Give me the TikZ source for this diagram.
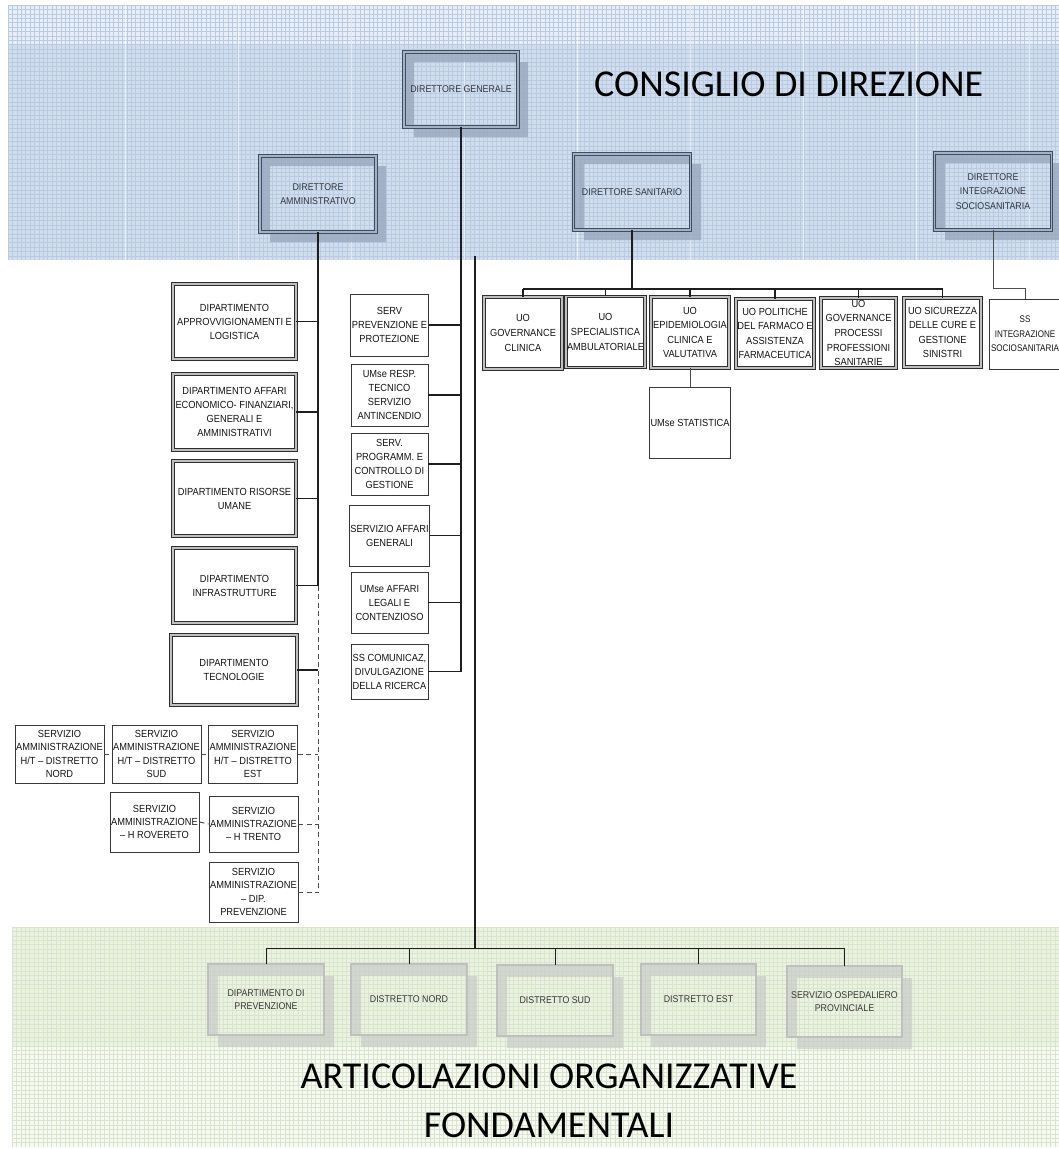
\documentclass[tikz,border=0pt]{standalone}
\usepackage{fontspec}
\setmainfont{Liberation Sans}
\newfontfamily\boxfont[FakeStretch=0.9]{Liberation Sans}
\newfontfamily\narrowfont[FakeStretch=0.84]{Liberation Sans}
\newfontfamily\titlefont{Carlito}
\usetikzlibrary{calc}
\definecolor{toplight}{RGB}{232,238,247}
\definecolor{bandblue}{RGB}{208,221,238}
\definecolor{gridblue}{RGB}{186,202,225}
\definecolor{shblue}{RGB}{150,164,188}
\definecolor{topedge}{RGB}{65,78,98}
\definecolor{topgap}{RGB}{165,178,198}
\definecolor{toptext}{RGB}{50,55,65}
\definecolor{greenband}{RGB}{236,242,225}
\definecolor{greenlight}{RGB}{247,250,242}
\definecolor{gridgreen}{RGB}{218,228,205}
\definecolor{shgray}{RGB}{196,198,196}
\definecolor{lineblk}{RGB}{30,30,30}
\begin{document}
\begin{tikzpicture}[x=1pt,y=-1pt,
  sz/.style 2 args={minimum width=#1, minimum height=#2},
  basebox/.style={align=center, inner sep=1pt, font=\boxfont\fontsize{10.3}{14}\selectfont, text=black!92},
  topbox/.style={basebox, draw=topedge, line width=0.9pt, double=topgap, double distance=1.4pt, text=toptext, font=\boxfont\fontsize{9.8}{14.5}\selectfont},
  dblbox/.style={basebox, draw=black!82, line width=0.9pt, double=black!25, double distance=1.3pt},
  uobox/.style={dblbox, font=\boxfont\fontsize{10.3}{14.6}\selectfont},
  sglbox/.style={basebox, draw=black!78, line width=0.85pt},
  smbox/.style={sglbox, font=\boxfont\fontsize{10.3}{13.2}\selectfont},
  botbox/.style={basebox, draw=black!68, line width=0.75pt, double=black!25, double distance=1.3pt, text=black!78, font=\boxfont\fontsize{9.8}{12.5}\selectfont},
  conn/.style={draw=lineblk, line width=1.1pt},
  thickconn/.style={draw=lineblk, line width=1.8pt},
  dconn/.style={draw=black!70, line width=1pt, dash pattern=on 5pt off 3.5pt},
  title/.style={font=\titlefont\fontsize{38}{40}\selectfont, text=black, inner sep=0pt}
]
\useasboundingbox (0,0) rectangle (1059,1149);
\fill[white] (0,0) rectangle (1059,1149);
% ---------- bands ----------
\fill[toplight] (8,5) rectangle (1059,44);
\fill[bandblue] (8,44) rectangle (1059,260);
\fill[greenband] (12,927) rectangle (1059,1047);
\fill[greenlight] (12,1047) rectangle (1059,1147);
% ---------- grids ----------
\draw[gridblue, line width=0.3pt] \foreach \i in {0,...,239} {({8+4.4*\i},5) -- ({8+4.4*\i},260)};
\draw[gridblue, line width=0.3pt] \foreach \j in {0,...,57} {(8,{5+4.4*\j}) -- (1059,{5+4.4*\j})};
\draw[white, line width=1pt, opacity=0.55] \foreach \x in {125,238,351,464,577,690,803,916,1029} {(\x,5) -- (\x,260)};
\draw[gridgreen, line width=0.3pt] \foreach \i in {0,...,238} {({12+4.4*\i},927) -- ({12+4.4*\i},1147)};
\draw[gridgreen, line width=0.3pt] \foreach \j in {0,...,49} {(12,{927+4.4*\j}) -- (1059,{927+4.4*\j})};
% ---------- shadows ----------
\begin{scope}[fill opacity=0.75]
\fill[shblue, even odd rule] (414,62) rectangle (528,137) (404,52) rectangle (518,127);
\fill[shblue, even odd rule] (270,166) rectangle (386,242) (260,156) rectangle (376,232);
\fill[shblue, even odd rule] (584,164) rectangle (701,240) (574,154) rectangle (691,230);
\fill[shblue, even odd rule] (945,163) rectangle (1062,240) (935,153) rectangle (1052,230);
\end{scope}
\begin{scope}[fill opacity=0.6]
\fill[shgray, even odd rule] (218,976) rectangle (334,1047) (208,964) rectangle (324,1035);
\fill[shgray, even odd rule] (361,976) rectangle (477,1047) (351,964) rectangle (467,1035);
\fill[shgray, even odd rule] (507,977) rectangle (623,1048) (497,965) rectangle (613,1036);
\fill[shgray, even odd rule] (651,976) rectangle (766,1047) (641,964) rectangle (756,1035);
\fill[shgray, even odd rule] (797,978) rectangle (912,1049) (787,966) rectangle (902,1037);
\end{scope}
% ---------- titles ----------
\node[title, anchor=base west] (t1) at (594,96) {CONSIGLIO DI DIREZIONE};
\node[title, anchor=base] (t2) at (549,1088) {ARTICOLAZIONI ORGANIZZATIVE};
\node[title, anchor=base] (t3) at (549,1137) {FONDAMENTALI};
% ---------- top directors ----------
\node[topbox, sz={114}{75}] (dg) at (461,89.5) {DIRETTORE GENERALE};
\node[topbox, sz={116}{76}] (da) at (318,194) {DIRETTORE\\AMMINISTRATIVO};
\node[topbox, sz={117}{76}] (ds) at (632,192) {DIRETTORE SANITARIO};
\node[topbox, sz={117}{77}] (dis) at (993,191.5) {DIRETTORE\\INTEGRAZIONE\\SOCIOSANITARIA};
% ---------- left departments ----------
\node[dblbox, sz={123}{75}] (approv) at (234.5,321.5) {DIPARTIMENTO\\APPROVVIGIONAMENTI E\\LOGISTICA};
\node[dblbox, sz={123}{76}] (affari) at (234.5,412) {DIPARTIMENTO AFFARI\\ECONOMICO- FINANZIARI,\\GENERALI E\\AMMINISTRATIVI};
\node[dblbox, sz={123}{75}] (risorse) at (234.5,498.5) {DIPARTIMENTO RISORSE\\UMANE};
\node[dblbox, sz={123}{75}] (infra) at (234.5,585.5) {DIPARTIMENTO\\INFRASTRUTTURE};
\node[dblbox, sz={126}{70}] (tecno) at (234,670) {DIPARTIMENTO\\TECNOLOGIE};
% ---------- servizi amministrazione ----------
\node[smbox, sz={89}{58}] (snord) at (59.5,754) {SERVIZIO\\AMMINISTRAZIONE\\H/T – DISTRETTO\\NORD};
\node[smbox, sz={89}{58}] (ssud) at (156.5,754) {SERVIZIO\\AMMINISTRAZIONE\\H/T – DISTRETTO\\SUD};
\node[smbox, sz={88}{58}] (sest) at (253,754) {SERVIZIO\\AMMINISTRAZIONE\\H/T – DISTRETTO\\EST};
\node[smbox, sz={89}{60}] (srov) at (154.5,822) {SERVIZIO\\AMMINISTRAZIONE\\– H ROVERETO};
\node[smbox, sz={89}{56}] (strento) at (253.5,824) {SERVIZIO\\AMMINISTRAZIONE\\– H TRENTO};
\node[smbox, sz={89}{60}] (sdip) at (253.5,892) {SERVIZIO\\AMMINISTRAZIONE\\– DIP.\\PREVENZIONE};
% ---------- centre column ----------
\node[sglbox, sz={77}{62}] (servprev) at (389.5,325) {SERV\\PREVENZIONE E\\PROTEZIONE};
\node[sglbox, sz={77}{62}] (umresp) at (389.5,395) {UMse RESP.\\TECNICO\\SERVIZIO\\ANTINCENDIO};
\node[sglbox, sz={77}{62}] (progr) at (389.5,464) {SERV.\\PROGRAMM. E\\CONTROLLO DI\\GESTIONE};
\node[sglbox, sz={77}{61}] (affgen) at (389.5,535.5) {SERVIZIO AFFARI\\GENERALI};
\node[sglbox, sz={77}{61}] (legali) at (389.5,602.5) {UMse AFFARI\\LEGALI E\\CONTENZIOSO};
\node[sglbox, sz={77}{55}] (comun) at (389.5,671.5) {SS COMUNICAZ,\\DIVULGAZIONE\\DELLA RICERCA};
% ---------- UO row ----------
\node[uobox, sz={78}{72}] (uo1) at (523,333) {UO\\GOVERNANCE\\CLINICA};
\node[uobox, sz={77}{71}] (uo2) at (605.5,332) {UO\\SPECIALISTICA\\AMBULATORIALE};
\node[uobox, sz={78}{71}] (uo3) at (690,332.5) {UO\\EPIDEMIOLOGIA\\CLINICA E\\VALUTATIVA};
\node[uobox, sz={78}{69}] (uo4) at (775,333.5) {UO POLITICHE\\DEL FARMACO E\\ASSISTENZA\\FARMACEUTICA};
\node[uobox, sz={75}{70}] (uo5) at (858.5,333) {UO\\GOVERNANCE\\PROCESSI\\PROFESSIONI\\SANITARIE};
\node[uobox, sz={77}{69}] (uo6) at (942.5,332.5) {UO SICUREZZA\\DELLE CURE E\\GESTIONE\\SINISTRI};
\node[sglbox, sz={72}{70}, font=\narrowfont\fontsize{9.6}{14.6}\selectfont] (ssint) at (1025,334) {SS\\INTEGRAZIONE\\SOCIOSANITARIA};
\node[sglbox, sz={74}{71}] (stat) at (690,422.5) {UMse STATISTICA};
% ---------- bottom row ----------
\node[botbox, sz={116}{71}] (b1) at (266,999.5) {DIPARTIMENTO DI\\PREVENZIONE};
\node[botbox, sz={116}{71}] (b2) at (409,999.5) {DISTRETTO NORD};
\node[botbox, sz={116}{71}] (b3) at (555,1000.5) {DISTRETTO SUD};
\node[botbox, sz={115}{71}] (b4) at (698.5,999.5) {DISTRETTO EST};
\node[botbox, sz={115}{71}] (b5) at (844.5,1001.5) {SERVIZIO OSPEDALIERO\\PROVINCIALE};
% ---------- coordinates ----------
\coordinate (dsbus) at (632,289);
\coordinate (disbend) at (993,288);
\coordinate (trunktop) at (475,256);
\coordinate (bbus) at (475,948);
% ---------- connectors: DG ----------
\draw[conn] (dg.south) -- (dg.south |- comun.east);
\foreach \n in {servprev,umresp,progr,affgen,legali,comun}
  \draw[conn] (\n.east) -- (\n.east -| dg.south);
% ---------- connectors: DA ----------
\draw[conn] (da.south) -- (da.south |- infra.east);
\draw[dconn] (da.south |- infra.east) -- (da.south |- sdip.east);
\foreach \n in {approv,affari,risorse,infra,tecno}
  \draw[conn] (\n.east) -- (\n.east -| da.south);
\draw[dconn] (sest.east) -- (sest.east -| da.south);
\draw[dconn] (strento.east) -- (strento.east -| da.south);
\draw[dconn] (sdip.east) -- (sdip.east -| da.south);
\draw[dconn] (snord.east) -- (ssud.west);
\draw[dconn] (ssud.east) -- (sest.west);
\draw[dconn] (srov.east) -- (strento.west);
% ---------- connectors: DS ----------
\draw[thickconn] (ds.south) -- (dsbus);
\draw[thickconn] (uo1.north |- dsbus) -- (uo6.north |- dsbus);
\foreach \n in {uo1,uo2,uo3,uo4,uo5,uo6}
  \draw[conn] (\n.north) -- (\n.north |- dsbus);
\draw[conn, draw=black!70, line width=0.8pt] (uo3.south) -- (stat.north);
% ---------- connectors: DIS ----------
\draw[conn, draw=black!70, line width=0.9pt] (dis.south) -- (disbend) -| (ssint.north);
% ---------- connectors: bottom ----------
\draw[conn] (trunktop) -- (bbus);
\draw[conn, line width=0.9pt] (b1.north |- bbus) -- (b5.north |- bbus);
\foreach \n in {b1,b2,b3,b4,b5}
  \draw[conn, line width=0.9pt] (\n.north) -- (\n.north |- bbus);
\end{tikzpicture}
\end{document}
